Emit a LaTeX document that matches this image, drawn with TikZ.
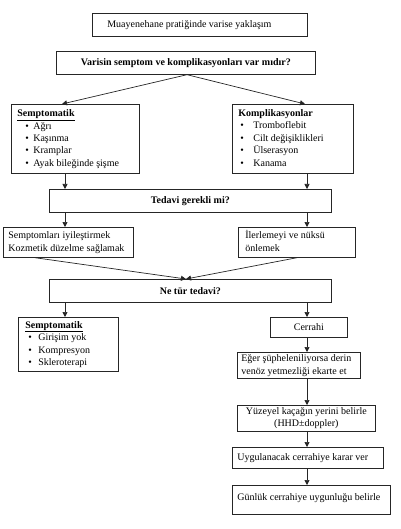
\documentclass[tikz,border=0pt]{standalone}
\usepackage{fontspec}
\setmainfont{Liberation Serif}
\usetikzlibrary{arrows.meta}
\newcommand{\lb}[2]{\makebox[#1][l]{\begin{tabular}{@{}l@{}}#2\end{tabular}}}
\newcommand{\itm}[3]{\hspace*{#1}\makebox[#2][l]{\textbullet}#3}
\begin{document}
\begin{tikzpicture}[x=1pt,y=-1pt,
  box/.style={draw=black!85, line width=0.7pt, inner sep=0pt, anchor=north west,
              font=\fontsize{10}{12.4}\selectfont},
  arr/.style={draw=black!85, line width=0.7pt, -{Triangle[length=5pt,width=5pt]}}]
\useasboundingbox (0,0) rectangle (400,529);
% column guides
\coordinate (L) at (65,0);
\coordinate (R) at (307,0);
\coordinate (A) at (187,0);
\coordinate (TL) at (62,0);
\coordinate (TR) at (305,0);
\coordinate (NL) at (35,0);
\coordinate (NR) at (297,0);
\coordinate (NA) at (186,0);

\node[box, minimum width=215pt, minimum height=23pt, inner xsep=15pt] (b1) at (92,13)
  {\lb{185pt}{Muayenehane pratiğinde varise yaklaşım}};
\node[box, minimum width=259pt, minimum height=23pt] (b2) at (56,51)
  {\textbf{Varisin semptom ve komplikasyonları var mıdır?}};

\node[box, minimum width=128pt, minimum height=69pt, inner xsep=6pt] (s1) at (11,104)
  {\lb{116pt}{\underline{\textbf{Semptomatik}}\\
     \itm{8pt}{8pt}{Ağrı}\\
     \itm{8pt}{8pt}{Kaşınma}\\
     \itm{8pt}{8pt}{Kramplar}\\
     \itm{8pt}{8pt}{Ayak bileğinde şişme}}};
\node[box, minimum width=121pt, minimum height=69pt, inner xsep=6pt] (k1) at (232,104)
  {\lb{109pt}{\textbf{Komplikasyonlar}\\
     \itm{2pt}{13pt}{Tromboflebit}\\
     \itm{2pt}{13pt}{Cilt değişiklikleri}\\
     \itm{2pt}{13pt}{Ülserasyon}\\
     \itm{2pt}{13pt}{Kanama}}};

\node[box, minimum width=282pt, minimum height=23pt] (t1) at (49,189)
  {\textbf{Tedavi gerekli mi?}};

\node[box, minimum width=130pt, minimum height=30pt, inner xsep=5pt] (n1) at (3,227)
  {\lb{120pt}{Semptomları iyileştirmek\\Kozmetik düzelme sağlamak}};
\node[box, minimum width=117pt, minimum height=30pt, inner xsep=7pt] (n2) at (238,227)
  {\lb{103pt}{İlerlemeyi ve nüksü\\önlemek}};

\node[box, minimum width=282pt, minimum height=23pt] (t2) at (49,279)
  {\textbf{Ne tür tedavi?}};

\node[box, minimum width=100pt, minimum height=54pt, inner xsep=7pt] (s2) at (18,317)
  {\lb{86pt}{\underline{\textbf{Semptomatik}}\\
     \itm{3pt}{10pt}{Girişim yok}\\
     \itm{3pt}{10pt}{Kompresyon}\\
     \itm{3pt}{10pt}{Skleroterapi}}};

\node[box, minimum width=77pt, minimum height=20pt] (c1) at (270,317) {Cerrahi};
\node[box, minimum width=123pt, minimum height=26pt, inner xsep=4pt] (e1) at (237,352)
  {\lb{115pt}{Eğer şüpheleniliyorsa derin\\venöz yetmezliği ekarte et}};
\node[box, minimum width=138pt, minimum height=26pt, align=center] (y1) at (237,405)
  {Yüzeyel kaçağın yerini belirle\\(HHD±doppler)};
\node[box, minimum width=151pt, minimum height=21pt, inner xsep=5pt] (u1) at (232,447)
  {\lb{141pt}{Uygulanacak cerrahiye karar ver}};
\node[box, minimum width=158pt, minimum height=29pt, inner xsep=5pt] (g1) at (232,485)
  {\raisebox{7pt}{\lb{148pt}{Günlük cerrahiye uygunluğu belirle}}};

% connectors
\draw[arr] (b2.south -| A) -- (s1.north -| TL);
\draw[arr] (b2.south -| A) -- (k1.north -| TR);
\draw[arr] (s1.south -| L) -- (t1.north -| L);
\draw[arr] (k1.south -| R) -- (t1.north -| R);
\draw[arr] (t1.south -| L) -- (n1.north -| L);
\draw[arr] (t1.south -| R) -- (n2.north -| R);
\draw[arr] (n1.south -| NL) -- (t2.north -| NA);
\draw[arr] (n2.south -| NR) -- (t2.north -| NA);
\draw[arr] (t2.south -| L) -- (s2.north -| L);
\draw[arr] (t2.south -| R) -- (c1.north -| R);
\draw[arr] (c1.south -| R) -- (e1.north -| R);
\draw[arr] (e1.south -| R) -- (y1.north -| R);
\draw[arr] (y1.south -| R) -- (u1.north -| R);
\draw[arr] (u1.south -| R) -- (g1.north -| R);
\end{tikzpicture}
\end{document}
